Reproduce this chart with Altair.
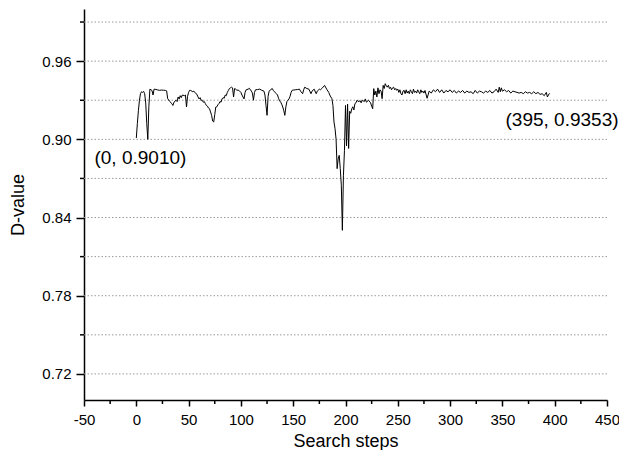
import altair as alt
import pandas as pd

# ---- data ----
steps = [0, 1, 2, 3, 4, 5, 6, 7, 8, 9, 10, 11, 12, 13, 14, 15, 16, 17, 18, 20,
         22, 24, 26, 28, 29, 30, 32, 34, 35, 36, 38, 39, 40, 41, 42, 43, 44, 46, 47, 48,
         49, 50, 51, 52, 54, 55, 57, 58, 59, 60, 61, 62, 63, 64, 65, 66, 67, 68, 69, 70,
         71, 72, 73, 74, 75, 76, 77, 78, 79, 80, 81, 82, 83, 84, 85, 86, 87, 88, 89, 90,
         91, 92, 93, 94, 95, 96, 98, 100, 101, 103, 104, 105, 107, 108, 110, 111, 112, 113, 114, 116,
         118, 120, 122, 123, 124, 125, 126, 127, 128, 130, 131, 132, 134, 135, 136, 137, 138, 139, 140, 141,
         142, 143, 144, 145, 146, 147, 148, 149, 150, 152, 154, 156, 157, 159, 160, 161, 163, 165, 167, 168,
         170, 172, 173, 175, 176, 178, 180, 182, 184, 185, 186, 187, 188, 189, 190, 191, 192, 193, 194, 195,
         196, 197, 198, 199, 200, 201, 202, 203, 204, 205, 206, 207, 208, 209, 210, 211, 212, 214, 215, 216,
         218, 219, 220, 222, 224, 225, 226, 227, 228, 229, 230, 231, 232, 233, 234, 235, 236, 237, 238, 239,
         240, 241, 242, 243, 244, 245, 246, 247, 248, 249, 250, 251, 252, 253, 254, 255, 256, 257, 258, 259,
         260, 261, 262, 263, 264, 265, 266, 267, 268, 269, 270, 271, 272, 273, 274, 275, 276, 278, 280, 282,
         284, 286, 288, 290, 292, 294, 296, 298, 300, 302, 304, 306, 308, 310, 312, 314, 316, 318, 320, 322,
         324, 326, 328, 330, 332, 334, 336, 338, 340, 342, 344, 346, 347, 348, 349, 350, 352, 354, 356, 358,
         360, 362, 364, 366, 368, 370, 372, 374, 376, 378, 380, 382, 384, 386, 388, 390, 392, 393, 394, 395]

dvalues = [0.901, 0.912, 0.922, 0.930, 0.935, 0.9365, 0.936, 0.9368, 0.935, 0.928, 0.912, 0.900, 0.925, 0.9385, 0.938, 0.9375, 0.934, 0.9385, 0.9384, 0.938,
           0.9376, 0.9378, 0.9377, 0.9375, 0.9372, 0.9312, 0.929, 0.9274, 0.926, 0.9285, 0.930, 0.929, 0.9325, 0.931, 0.9335, 0.932, 0.934, 0.9335, 0.934, 0.9248,
           0.933, 0.936, 0.9376, 0.9375, 0.9365, 0.937, 0.935, 0.9345, 0.9325, 0.931, 0.932, 0.930, 0.930, 0.9285, 0.929, 0.9274, 0.926, 0.9255, 0.924, 0.9235,
           0.921, 0.9184, 0.914, 0.9133, 0.919, 0.9248, 0.925, 0.9265, 0.9274, 0.929, 0.9285, 0.931, 0.932, 0.9315, 0.934, 0.9335, 0.936, 0.9375, 0.939, 0.9395,
           0.940, 0.9395, 0.9325, 0.939, 0.9385, 0.9378, 0.9376, 0.936, 0.934, 0.931, 0.936, 0.938, 0.9385, 0.9392, 0.937, 0.9355, 0.930, 0.936, 0.938, 0.9382,
           0.9385, 0.9376, 0.937, 0.934, 0.926, 0.9184, 0.933, 0.937, 0.9378, 0.939, 0.9375, 0.9365, 0.935, 0.934, 0.9315, 0.9295, 0.9286, 0.927, 0.9248, 0.922,
           0.9184, 0.925, 0.929, 0.930, 0.931, 0.933, 0.936, 0.9376, 0.9378, 0.938, 0.9382, 0.9385, 0.937, 0.935, 0.938, 0.940, 0.939, 0.9385, 0.935, 0.937,
           0.9385, 0.935, 0.937, 0.9385, 0.938, 0.9395, 0.9414, 0.9385, 0.936, 0.934, 0.9325, 0.9312, 0.926, 0.9133, 0.9082, 0.900, 0.8775, 0.885, 0.8877, 0.8775,
           0.8647, 0.8302, 0.872, 0.8916, 0.926, 0.895, 0.927, 0.893, 0.9215, 0.920, 0.9235, 0.925, 0.9225, 0.9274, 0.928, 0.930, 0.929, 0.9295, 0.928, 0.930,
           0.929, 0.931, 0.9285, 0.930, 0.928, 0.9255, 0.9235, 0.9389, 0.934, 0.937, 0.9325, 0.9395, 0.935, 0.938, 0.937, 0.9312, 0.9414, 0.939, 0.9427, 0.941,
           0.940, 0.9415, 0.939, 0.940, 0.938, 0.9395, 0.940, 0.938, 0.939, 0.9376, 0.9385, 0.936, 0.938, 0.935, 0.934, 0.937, 0.9376, 0.935, 0.938, 0.9355,
           0.937, 0.935, 0.938, 0.9365, 0.935, 0.9385, 0.936, 0.937, 0.9355, 0.938, 0.9365, 0.935, 0.938, 0.936, 0.937, 0.9355, 0.9375, 0.9315, 0.937, 0.9355,
           0.938, 0.9365, 0.9385, 0.936, 0.938, 0.9355, 0.9375, 0.9365, 0.938, 0.936, 0.9375, 0.9355, 0.937, 0.936, 0.9375, 0.9355, 0.937, 0.936, 0.9365, 0.935,
           0.9375, 0.9355, 0.937, 0.9365, 0.9355, 0.937, 0.936, 0.9375, 0.9355, 0.9365, 0.9385, 0.936, 0.940, 0.9365, 0.9395, 0.937, 0.938, 0.9365, 0.9375, 0.9355,
           0.937, 0.9365, 0.936, 0.9355, 0.936, 0.935, 0.9365, 0.9355, 0.936, 0.935, 0.9365, 0.935, 0.936, 0.9345, 0.935, 0.9335, 0.936, 0.9325, 0.934, 0.9353]

grid_levels = [0.72, 0.75, 0.78, 0.81, 0.84, 0.87, 0.90, 0.93, 0.96, 0.99]
y_major = [0.72, 0.78, 0.84, 0.90, 0.96]
y_minor = [0.75, 0.81, 0.87, 0.93, 0.99]
x_major = [-50, 0, 50, 100, 150, 200, 250, 300, 350, 400, 450]
x_minor = [-25, 25, 75, 125, 175, 225, 275, 325, 375, 425]

ann_text = ["(0, 0.9010)", "(395, 0.9353)"]
ann_x = [-40, 353]
ann_y = [0.8855, 0.9146]

# ---- chart ----
W, H = 523, 391
FONT = "Liberation Sans"
xscale = alt.Scale(domain=[-50, 450], nice=False, zero=False)
yscale = alt.Scale(domain=[0.70, 1.0], nice=False, zero=False)

xaxis = alt.Axis(values=x_major, labelExpr="'' + datum.value", title="Search steps", grid=False,
                 tickSize=6, tickWidth=1.5, tickColor="black",
                 domainColor="black", domainWidth=1.5,
                 labelFont=FONT, labelFontSize=15, labelColor="black", labelPadding=6,
                 titleFont=FONT, titleFontSize=18, titleFontWeight="normal",
                 titleColor="black", titlePadding=5, labelFlush=False)
yaxis = alt.Axis(values=y_major, format=".2f", title="D-value", grid=False,
                 tickSize=8, tickWidth=1.5, tickColor="black",
                 domainColor="black", domainWidth=1.5,
                 labelFont=FONT, labelFontSize=15, labelColor="black", labelPadding=5,
                 titleFont=FONT, titleFontSize=18, titleFontWeight="normal",
                 titleColor="black", titlePadding=14, labelFlush=False)

df = pd.DataFrame({"step": steps, "d": dvalues})
grid_df = pd.DataFrame({"d": grid_levels})
ymin_df = pd.DataFrame({"d": y_minor})
xmin_df = pd.DataFrame({"step": x_minor})
ann_df = pd.DataFrame({"t": ann_text, "step": ann_x, "d": ann_y})

grid = alt.Chart(grid_df).mark_rule(color="#9a9a9a", strokeWidth=1, strokeDash=[1.5, 2]).encode(
    y=alt.Y("d:Q", scale=yscale, axis=yaxis)
)

line = alt.Chart(df).mark_line(color="black", strokeWidth=1).encode(
    x=alt.X("step:Q", scale=xscale, axis=xaxis),
    y=alt.Y("d:Q", scale=yscale, axis=yaxis),
)

yminor = alt.Chart(ymin_df).mark_rule(color="black", strokeWidth=1.5).encode(
    y=alt.Y("d:Q", scale=yscale, axis=yaxis),
    x=alt.value(-4), x2=alt.value(0),
)

xminor = alt.Chart(xmin_df).mark_rule(color="black", strokeWidth=1.5).encode(
    x=alt.X("step:Q", scale=xscale, axis=xaxis),
    y=alt.value(H), y2=alt.value(H + 4),
)

ann = alt.Chart(ann_df).mark_text(font=FONT, fontSize=19, color="black", align="left",
                                  baseline="middle").encode(
    x=alt.X("step:Q", scale=xscale, axis=xaxis),
    y=alt.Y("d:Q", scale=yscale, axis=yaxis),
    text="t:N",
)

chart = alt.layer(grid, line, yminor, xminor, ann).properties(
    width=W, height=H,
    autosize=alt.AutoSizeParams(type="none"),
    padding={"left": 76, "top": 1, "right": 12, "bottom": 50},
).configure_view(stroke=None)

chart.save("out.html", embed_options={"renderer": "svg", "actions": False})
